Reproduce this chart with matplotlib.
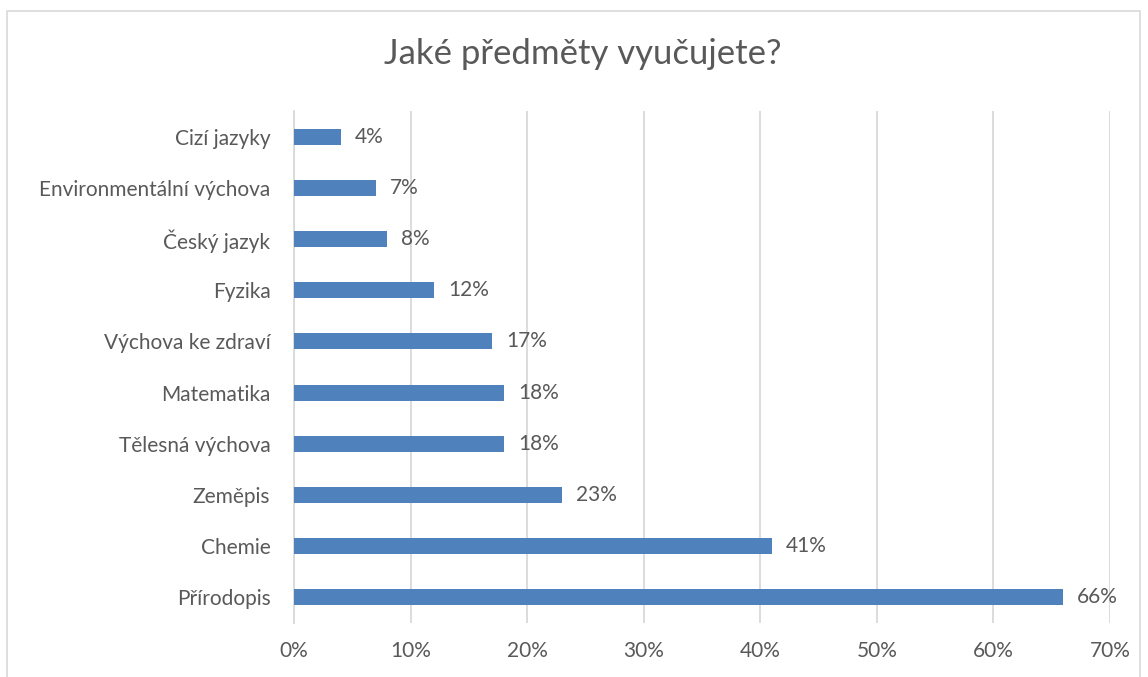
import numpy as np
import matplotlib
matplotlib.use("Agg")
import matplotlib.pyplot as plt
from matplotlib.patches import Rectangle

# data (top to bottom as shown)
subjects = ["Cizí jazyky", "Environmentální výchova", "Český jazyk", "Fyzika",
            "Výchova ke zdraví", "Matematika", "Tělesná výchova", "Zeměpis",
            "Chemie", "Přírodopis"]
shares = [4, 7, 8, 12, 17, 18, 18, 23, 41, 66]
xticks = [0, 10, 20, 30, 40, 50, 60, 70]

plt.rcParams['font.family'] = ['Lato', 'DejaVu Sans']
txt = '#595959'
grid = '#d9d9d9'
bar_col = '#4f81bd'
fs = 15

fig = plt.figure(figsize=(11.48, 6.77), dpi=100)
ax = fig.add_axes([294/1148, 1-623/677, 816/1148, 512/677])

y = np.arange(len(subjects))
ax.barh(y, shares, height=0.31, color=bar_col, zorder=3)
for yi, v in zip(y, shares):
    ax.text(v + 1.2, yi, f"{v}%", va='center', ha='left', fontsize=fs, color=txt)

ax.set_ylim(len(subjects) - 0.5, -0.5)
ax.set_xlim(0, 70)
ax.set_yticks(y)
ax.set_yticklabels(subjects, fontsize=fs, color=txt)
ax.set_xticks(xticks)
ax.set_xticklabels([f"{t}%" for t in xticks], fontsize=fs, color=txt)
ax.tick_params(axis='y', length=0, pad=17)
ax.tick_params(axis='x', length=0, pad=13)
ax.grid(axis='x', color=grid, linewidth=1.3, zorder=0)
for s in ['top', 'right', 'bottom']:
    ax.spines[s].set_visible(False)
ax.spines['left'].set_color(grid)
ax.spines['left'].set_linewidth(1.3)

fig.text(0.508, 1-54/677, "Jaké předměty vyučujete?", ha='center', va='center',
         fontsize=25, color=txt)

fig.patches.append(Rectangle((7/1148, -0.02), 1133/1148, 1.02-11/677,
                             transform=fig.transFigure, fill=False,
                             edgecolor=grid, linewidth=1.2))

fig.savefig("out.png", dpi=100)
